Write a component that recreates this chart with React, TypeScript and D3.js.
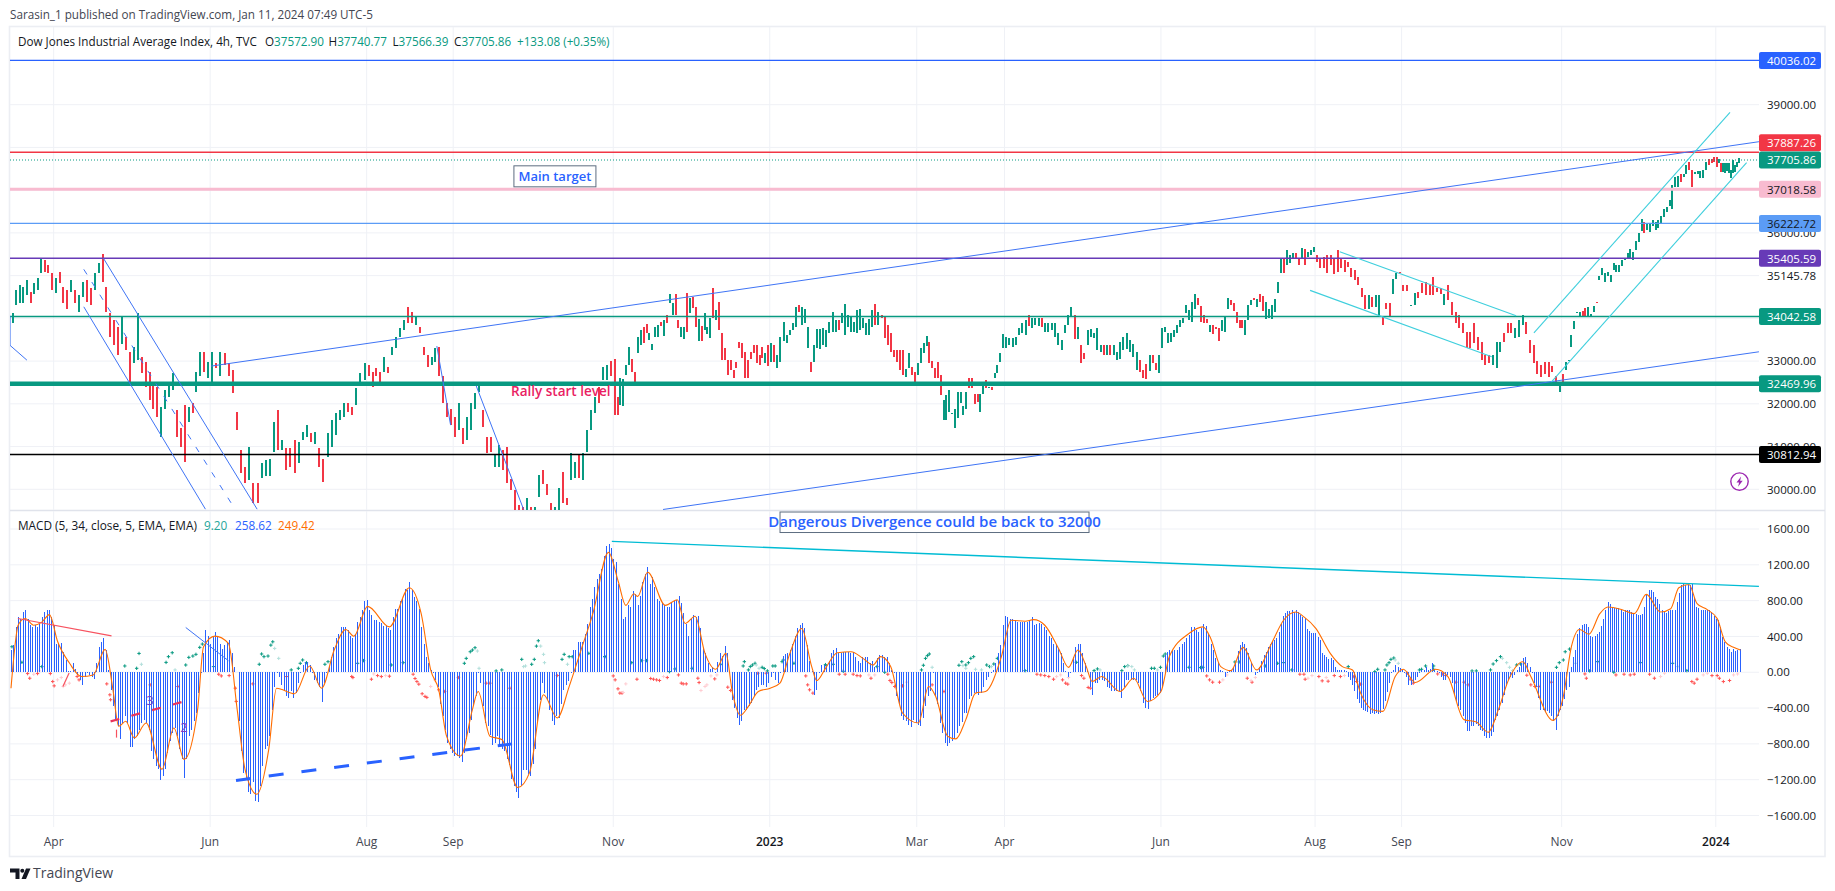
import * as d3 from "d3";

const WIDTH = 1835;
const HEIGHT = 891;
const UI_FONT = "'Open Sans', sans-serif";

// candles are [open, close], one list per stretch between two time axis labels
const mar22: number[][] = [[33900,34120],[34310,34660],[34350,34780],[34350,34740],[34550,34900],[34620,34350],[34580,34820],[34660,34940],[35050,35380],[35360,35090],[35250,35050],[35050,34660]];
const apr22: number[][] = [[34590,34940],[35090,34820],[34740,34350],[34660,34230],[34620,34900],[34660,34350],[34160,34550],[34510,34860],[34900,34390],[34700,34310],[34660,35050],[35050,35290],[35500,34860],[34740,34150],[34120,33570],[33960,33380],[33800,33140],[33410,34040],[33570,33260],[33220,32480],[32950,33340],[33030,34120],[33100,32710],[32990,32400],[32750,32090],[32520,31890],[32400,31700],[31230,31930],[31890,32320],[32170,32480],[32320,32710],[31850,31230],[31430,31000],[31970,30650],[31580,31930],[32010,31780],[32280,32750],[32640,33220],[33220,32750],[32600,32990]];
const jun22: number[][] = [[32520,33220],[32950,32830],[32640,33220],[33180,32910],[32950,32640],[32790,32250],[31820,31390],[30920,30370],[30530,30140],[30220,31000],[30140,29670],[30140,29670],[30260,30610],[30300,30690],[30300,30720],[30880,31580],[31850,30920],[30920,31150],[30960,30450],[30960,30530],[31150,30370],[30610,31110],[31150,31350],[31230,31500],[31310,31110],[31070,31350],[30960,30530],[30720,30180],[30760,31310],[31000,31620],[31270,31780],[31620,31850],[31700,32010],[32010,31820],[31930,31740],[31970,32360],[32440,32710],[32560,32950]];
const aug22: number[][] = [[32910,32640],[32750,32400],[32830,32640],[32750,32520],[32750,33100],[32870,32710],[33140,33340],[33300,33570],[33570,33770],[33730,33960],[34270,33880],[34150,33880],[33840,34040],[33800,33650],[33340,33140],[33140,32870],[32910,33100],[32990,33300],[33340,32640],[32640,32010],[32010,31700],[31890,31500]];
const sep22: number[][] = [[31700,31230],[31390,32010],[31430,31070],[31150,31700],[31390,32010],[31890,32250],[32280,32440],[31850,31460],[31230,30840],[31230,30880],[30530,30800],[30530,31030],[30920,30450],[31000,30140],[30250,29980],[29980,29510],[29630,29200],[29590,29150],[29440,29790],[29590,29120],[29360,29590],[29830,30330],[30460,30120],[30120,29870],[29670,29360],[29440,29590],[29510,30020],[30410,29670],[29790,29630],[30220,30840],[30260,30650],[30800,30260],[30220,30840],[30880,31390],[31390,31850],[31780,32170],[32400,32010],[32560,32870],[32560,32910],[33000,32640]];
const nov22: number[][] = [[33060,31740],[32170,31740],[31970,32600],[31950,32590],[32670,32900],[32910,33340],[33060,32750],[32750,32480],[33180,33570],[33380,33730],[33790,33420],[33860,33650],[33490,33650],[33260,33410],[33570,33800],[33570,33850],[33910,33810],[33580,33970],[34080,33880],[34370,34570],[34070,34370],[34560,34080],[33960,33770],[33570,33800],[33520,33790],[34590,33690],[34120,34470],[34510,34240],[34260,33800],[33460,33980],[33810,33460],[33720,34130],[33630,33790],[33530,34000],[34700,34000],[33960,34190],[34390,33730],[33650,33020],[33300,33020],[33020,32670],[33020,32790],[32790,32600],[32990,32830],[33440,33300],[33420,33070],[33220,32600],[33020,32600],[33220,33060],[33370,33180],[33370,32950],[33140,32910],[33340,33070],[32950,33190],[33370,32880]];
const jan23: number[][] = [[32990,33420],[33370,32990],[32830,33140],[32990,33570],[33470,33920],[33420,33610],[33610,33730],[33730,33880],[33800,34270],[34310,34160],[33840,34270],[33880,34230],[33300,33800],[32990,32750],[32990,33380],[33310,33760],[33290,33760],[33380,33770],[33340,33730],[33650,33920],[33690,34160],[33670,33960],[33960,33730],[33880,34120],[33610,34340],[33800,34080],[33690,34040],[33690,33920],[33650,34190],[33730,34230],[33770,34000],[33610,33880],[33610,33990],[33800,34200],[34340,33840],[33840,34160],[34080,34000],[34040,33530],[33840,33380],[33650,33220],[33260,33100],[33260,32990],[33260,32790],[33260,32680],[32620,32820],[32830,33180],[32870,32670],[32750,32520]];
const mar23: number[][] = [[32670,32950],[32950,33300],[33180,33420],[33350,33580],[33450,32950],[33000,32830],[32830,32600],[32990,32600],[32670,32210],[31620,32090],[31620,32210],[31820,32320],[31780,31780],[31430,31890],[31660,32280],[32010,32280],[31740,31950],[31880,32280],[32600,32360],[32600,32360],[32240,31990],[32240,32050],[31820,32240],[32230,32520],[32560,32360],[32400,32400],[32400,32320],[32600,32720],[32710,32910],[32990,33180],[33300,33630]];
const apr23: number[][] = [[33300,33570],[33370,33530],[33340,33530],[33370,33570],[33610,33770],[33650,33880],[33610,33960],[34080,33810],[33770,34000],[33840,34000],[33810,34020],[34020,33800],[33690,33880],[33690,33880],[33730,33880],[33570,33880],[33380,33650],[33260,33490],[33650,33840],[33840,34080],[34040,34260],[34070,33520],[33520,33800],[33370,32950],[33180,33060],[33370,33730],[33570,33760],[33530,33650],[33260,33770],[33210,33370],[33370,33140],[33140,33370],[33370,33140],[33140,33370],[33020,33220],[33060,33450],[33260,33570],[33290,33650],[33220,33490],[33100,33410],[32790,33220],[33030,32750],[32790,32600],[32940,32590],[32780,33140],[33140,32950],[32950,32790],[32720,33140]];
const jun23: number[][] = [[33300,33770],[33690,33800],[33420,33650],[33450,33650],[33570,33730],[33650,33840],[33800,33960],[33880,34020],[34120,34310],[33960,34200],[33920,34390],[34230,34580],[34470,34320],[34300,33920],[34080,33880],[33990,33890],[33690,33840],[33840,33640],[33800,33760],[33770,33460],[33710,33960],[33670,34040],[34210,34470],[34420,34310],[34360,34180],[34160,33880],[33960,33770],[33960,33770],[33620,33960],[33960,34310],[34310,34440],[34480,34420],[34270,34460],[34580,34380],[34520,34180],[33990,34390],[34000,34220],[33990,34320],[34150,34460],[34600,34850],[35050,35400],[35420,35070],[35250,35590],[35290,35480],[35400,35520],[35520,35400],[35400,35250],[35400,35640],[35630,35250],[35440,35560],[35480,35600],[35560,35680]];
const aug23: number[][] = [[35480,35330],[35400,35170],[35440,35170],[35480,35050],[35480,35250],[35400,35040],[35600,35090],[35400,35170],[35360,35090],[35330,35210],[35170,34970],[35130,34900],[34970,34780],[34700,34500],[34540,34230],[34230,34540],[34500,34270],[34270,34540],[34040,34540],[34040,33850],[34350,34230],[34350,34040],[34560,34930],[34930,35060],[35090,35050]];
const sep23: number[][] = [[34780,34630],[34780,34630],[34310,34310],[34310,34590],[34620,34470],[34820,34590],[34860,34550],[34780,34550],[34970,34550],[34700,34620],[34700,34580],[34310,34580],[34780,34430],[34390,34080],[34150,33880],[34080,33770],[33880,33650],[33690,33300],[33690,33300],[33880,33420],[33570,33260],[33450,33030],[33140,32900],[33140,32950],[32900,33140],[32850,33450],[33210,33450],[33650,33450],[33880,33650],[33880,33650],[33530,33770],[33570,33960],[33850,34080],[33920,33640],[33490,33190],[33370,32960],[33010,32700],[32910,32620],[32970,32700],[32970,32630],[32890,32750],[32650,32480],[32280,32520]];
const nov23: number[][] = [[32700,32520],[32790,32990],[33020,33030],[33340,33620],[33760,33950],[34150,34150],[34040,34150],[34170,34040],[34240,34040],[34060,34270],[34040,34100],[34150,34280],[34390,34380],[34890,35000],[35010,35180],[34850,35050],[34980,35090],[34860,35010],[35130,35290],[35090,35250],[35090,35250],[35220,35360],[35360,35400],[35380,35520],[35400,35630],[35360,35560],[35600,35800],[35790,35990],[36040,36320],[36260,36000],[36070,36220],[36030,36240],[36150,36310],[36060,36260],[36110,36300],[36220,36400],[36380,36570],[36490,36610],[36620,36770],[36570,37120],[37080,37310],[37080,37320],[37390,37200],[37300,37370],[37390,37590],[37650,37470],[37470,37070],[37380,37430],[37370,37440],[37290,37460],[37280,37470],[37470,37670],[37720,37590],[37740,37640],[37780,37650]];
const jan24: number[][] = [[37780,37550],[37630,37740],[37630,37430],[37430,37630],[37400,37630],[37440,37630],[37400,37630],[37280,37470],[37400,37710],[37430,37590],[37550,37670],[37630,37750]];

const candleStretches = [mar22, apr22, jun22, aug22, sep22, nov22, jan23, mar23, apr23, jun23, aug23, sep23, nov23, jan24];

const timeLabels = ["Apr", "Jun", "Aug", "Sep", "Nov", "2023", "Mar", "Apr", "Jun", "Aug", "Sep", "Nov", "2024"];
const timeBars = [18, 84, 150, 186.5, 254, 320, 382, 419, 485, 550, 586.5, 654, 719];
const lastBar = 729;

// MACD histogram, three stretches of bars
const histogramA = [250,300,510,620,600,670,690,600,530,510,530,510,540,620,670,690,690,620,530,320,310,330,230,140,10,10,100,40,-30,-90,-140,-50,-10,-30,-50,-70,100,280,340,380,250,30,-200,-380,-530,-600,-750,-570,-490,-570,-840,-840,-750,-710,-640,-570,-530,-570,-640,-880,-970,-1050,-1080,-1200,-1160,-1080,-900,-770,-680,-620,-710,-860,-970,-1180,-970,-710,-640,-550,-450,-230,-10,210,470,400,320,400,450,400,320,260,300,340,360,220,60,0,-550,-880,-1120,-1200,-1340,-1360,-1230,-1440,-1450,-1270,-1050,-860,-820,-710,-420,-160,-10,-50,-140,-200,-270,-290,-210,-290,-230,-120,-10,80,120,120,80,-10,-85,-120,-160,-330,-120,-10,60,170,280,380,430,500,500,500,470,400,380,430,560,620,690,800,810,690,640,580,580,560,550,520,520,490,470,620,710,710,800,820,930,920,1010,920,840,800,710,510,320,170,100,30,-10,-85,-160,-360,-490,-640,-790,-860,-900,-940,-940,-960,-1000,-900,-750,-680,-530,-380,-270,-10,-120,-380,-570,-600,-700,-810,-790,-710,-830,-860,-880,-970,-1040,-1190,-1270,-1340,-1410,-1270,-1090,-1090,-1140,-1160,-1030,-860,-570,-310,-120,-230,-310,-420,-550,-590,-490,-510,-350,-200,-140,-100,-10,250,250,340,340,340,430,540,730,820,950,1040,1100,1150,1300,1410,1430];
const histogramB = [1430,1390,1260,1230,990,820,600,620,750,730,910,870,750,850,1010,1100,1170,990,1060,950,820,800,770,750,730,730,780,800,810,850,770,660,540,400,600,640,620,630,490,270,210,100,40,60,-10,110,210,180,290,210,-10,-310,-400,-510,-590,-550,-420,-420,-380,-340,-270,-200,-160,-140,-140,-160,-120,-50,-10,-85,-120,-10,180,200,210,250,320,400,490,530,550,490,300,130,10,-250,-200,-10,80,80,80,130,210,250,270,210,210,230,230,230,210,230,170,130,100,170,170,170,100,130,60,160,190,190,170,170,100,30,-10,-270,-360,-490,-530,-550,-590,-610,-530,-570,-590,-600,-510,-380,-270,-215,-10,-270,-350,-570,-680,-790,-825,-790,-770,-750,-680,-600,-560,-450,-450,-300,-270,-230,-230,-250,-230,-160,-85,-50,-10,30,100,210,300,530,630,620,600,600,580,560,560,560,560,560,580,620,530,540,550,540,500,470,400,380,320,300,270,210,100,10,-50,-10,170,280,320,320,210,100,30,-160,-250,-120,-120,-85,-85,-100,-160,-180,-215,-215,-215,-215,-290,-160,-85,-85,-85,-85,-85,-120,-215,-340,-400,-407,-325,-290,-270,-250,-230,-160,190,230,250,250,250,250,280,320,340,380,420,500,500,470,450,490,540,520,430,320,250,160,120,30];
const histogramC = [30,10,-50,-10,10,30,60,120,240,300,340,320,270,210,100,0,-30,-10,60,130,190,230,280,310,340,360,380,450,540,630,660,680,680,690,670,690,670,640,620,610,480,460,440,440,440,390,360,220,190,170,150,160,140,60,30,30,30,30,10,-50,-85,-140,-215,-300,-340,-400,-420,-430,-440,-470,-460,-470,-460,-470,-450,-410,-320,-220,-120,-10,30,80,60,50,30,-10,-50,-140,-140,-120,-85,-50,-10,30,30,60,30,40,100,30,10,-10,-50,-85,-85,-30,-50,-120,-250,-330,-380,-420,-490,-570,-660,-660,-600,-600,-580,-600,-640,-660,-710,-730,-730,-710,-670,-530,-490,-420,-340,-250,-150,-85,-50,-60,-30,30,60,100,155,170,100,60,-10,-120,-160,-290,-420,-420,-440,-430,-460,-490,-550,-640,-490,-420,-380,-300,-200,-160,60,170,250,430,490,530,540,540,510,410,390,410,430,450,520,600,690,790,760,730,720,720,720,700,670,690,690,690,670,650,650,640,640,650,730,860,920,920,900,840,820,760,700,670,660,680,690,690,700,780,890,980,990,980,980,980,990,840,730,720,690,690,690,690,690,670,630,600,580,500,390,340,280,260,230,260,240,250,260];

// Signal line, read at its turning points
const signalBars = [0,1.2,3,6,9.6,13,16.2,19.7,24.7,29.7,34.7,39.7,43,45.4,48.4,52,57,63.7,68.7,73,78.7,81.2,86,91.7,95.4,98.7,103.7,108.7,112,119.6,126,131,136.3,141.2,144.6,150.4,159.6,168,173,177,180.4,183.7,189.6,194.6,197,202,207,213.7,218.7,224.6,230.4,235.4,240.4,245.4,252,256,259.3,262.7,264.3,268.5,276,281,284.3,288.5,292.7,297.2,301.5,304.3,307.7,311,315.2,320.2,324.3,328.5,333.5,337.7,339.8,343.5,348.5,354.3,359.3,363.5,366.8,371,376,382.7,387,390,395,398.5,402.7,406.8,411,417.7,421.8,427.7,431.3,436,441.8,446,450,453.5,456,460,467.7,473.5,479.3,485,488.5,496.8,502.7,506,510.2,514.5,519.6,525.3,531.6,536.7,541.9,545.3,550.4,556.4,561.5,565.8,569.2,574.3,578.6,583.8,587.2,592.3,600.8,606,612.8,618,623,627.3,631.6,637.6,641,650.4,654.7,658.1,661.5,665.5,670.1,673.5,679.5,684.6,689.7,695.7,700,703.4,707.7,711.1,715.4,719.6,723,726.5,729.4];
const signalValues = [-178,174,525,600,525,560,644,340,100,-48,-30,255,-196,-603,-548,-733,-566,-1084,-622,-973,-418,285,403,322,-418,-1084,-1362,-862,-178,-240,70,-178,248,477,403,736,507,944,655,26,-196,-714,-936,-418,-215,-714,-751,-1288,-1121,-252,-511,-160,248,655,1339,1025,747,877,847,1117,747,810,544,625,211,33,211,-233,-481,-381,-215,-178,-122,211,488,63,-93,44,218,229,155,81,174,63,-455,-566,-159,-270,-714,-744,-529,-233,-215,174,581,570,588,525,266,55,248,63,-104,-48,-215,-67,-326,-215,174,433,507,377,63,18,278,26,322,581,673,618,488,211,63,26,-233,-418,-437,-48,33,-115,33,-48,-529,-555,-670,-418,-85,118,-48,-537,-270,285,477,425,655,729,699,655,870,673,710,944,980,766,699,599,340,278,248];

// crosses of the MACD plot: [bar, value]
const crossTeal: number[][] = [[0.4,285],[48,70],[54,210],[53,44],[65.4,110],[66.4,174],[68,218],[73.7,81],[75,166],[76.7,181],[78,200],[79.6,278],[80.7,315],[104.7,89],[105.7,204],[106.7,174],[108.4,181],[110.4,340],[109.6,303],[122,100],[123,137],[124.6,107],[118.2,26],[121.2,44],[132.4,89],[133.7,118],[191.2,100],[192,155],[193.7,229],[194.6,248],[195.7,274],[204.6,15],[207,26],[215.4,144],[219.6,89],[220.7,144],[221.6,292],[222.4,352],[232.4,144],[233.3,200],[235.4,174],[236.7,174],[4.6,111],[13,63],[146.2,100],[148.7,130],[160.4,81],[165.4,107],[85.4,63],[243.7,211],[250.4,174],[309.3,118],[308.8,70],[311,26],[311.8,63],[312.7,81],[313.8,100],[316.8,55],[317.7,41],[319,15],[321.3,70],[322.3,70],[325.2,118],[325.7,137],[384,26],[384.8,78],[385.7,155],[386.5,185],[387.3,204],[399.8,78],[401,118],[402.7,81],[403.8,107],[404.8,155],[406,174],[411.5,81],[412.7,63],[414.5,92],[416,155],[456.8,18],[458.2,37],[468.5,18],[469.7,63],[471,74],[481,44],[482.2,44],[484.8,55],[486.8,204],[486,181],[250.5,174],[261.8,107],[266,130],[268,130],[277.7,7],[280,37],[287.2,44],[299.3,89],[330.2,100],[343.5,85],[346.8,89],[351,11],[365.2,63],[368.5,0],[427.7,18],[449.3,111],[496.8,55],[502.7,55],[501.7,52],[516.2,115],[518,115],[529,70],[534.2,100],[536.7,107],[540.2,26],[564,63],[575.2,7],[576.4,33],[579.5,26],[580.3,81],[581.2,107],[582,144],[583.2,159],[594,26],[594.9,33],[596.6,70],[600,33],[600,70],[616.2,15],[618,15],[624,26],[625.1,92],[626.5,130],[628.2,174],[635,81],[636.7,92],[651.8,55],[653,107],[654.7,137],[655.5,229],[657.3,259],[665.8,15],[669.2,118],[676,0],[687.2,107],[700.8,100],[706.8,18]];
const crossPaleTeal: number[][] = [[55,89],[69.2,26],[111.2,266],[112.9,155],[196.7,237],[197.4,44],[217,70],[223.4,292],[224.6,200],[225,107],[234.7,89],[216.2,63],[314.3,81],[315.5,44],[388.5,55],[401.5,74],[402.7,44],[406.8,33],[409.3,26],[413.5,63],[471,70],[472.7,63],[473.8,26],[459.3,26],[483.5,26],[583.8,137],[585.1,100],[629,155],[630.8,107],[632,55],[633.3,18],[659.8,100],[703,63]];
const crossRed: number[][] = [[7.9,-67],[7,-15],[11.2,-15],[16.6,-15],[17.6,-104],[18.2,-152],[27.9,-48],[28.7,-85],[40.4,-130],[41.7,-252],[42,-307],[94.6,-178],[95,-326],[87.6,-22],[88.7,-41],[92,-37],[143.7,-48],[144.2,-59],[152,-78],[154.6,-37],[156.2,-48],[159.6,-44],[169.6,-22],[170.4,-70],[171.2,-104],[172,-133],[173.4,-240],[174.6,-270],[175.4,-281],[180.4,-196],[182.9,-215],[58.7,-141],[70.4,-159],[102,-130],[116.2,-48],[188.7,-59],[200.4,-122],[202,-122],[210.4,-178],[230.4,-37],[254,-41],[254.8,-85],[256,-185],[256.8,-233],[257.7,-233],[264,-78],[269.8,-70],[271,-78],[272.3,-85],[273.5,-92],[276.8,-59],[281.5,-30],[282.7,-122],[283.5,-130],[284.8,-130],[289.7,-67],[290.2,-115],[296.8,-74],[302.3,-167],[303.5,-204],[335.2,-41],[336,-141],[336.8,-196],[338.2,-233],[349.3,-22],[351.8,-22],[355.2,-22],[356.8,-37],[358.2,-41],[362.7,-67],[369.8,-22],[370.7,-92],[371.5,-115],[372.7,-159],[376,-152],[432.7,-22],[434.3,-30],[436,-37],[437.7,-48],[439.7,-78],[443.5,-85],[444.8,-122],[445.7,-133],[451.5,-37],[452.5,-67],[454.3,-170],[455.2,-178],[315,-11],[318.5,-11],[388.5,-141],[393.5,-215],[504.3,-41],[505.5,-85],[506.8,-111],[509.7,-111],[521.4,-67],[523.4,-111],[543.6,-22],[545.3,-22],[545.8,-78],[551.6,-48],[553,-96],[555.5,-100],[558.1,-37],[560.7,-48],[566.3,-48],[567.5,-104],[569.2,-133],[588.9,-11],[590.1,-78],[591.4,-122],[601.7,-19],[603.8,-19],[605.1,-37],[609.4,-111],[612.8,-111],[614.5,-141],[639.3,-33],[641,-141],[642.7,-159],[644.4,-159],[649.6,-111],[663.8,-19],[664.4,-67],[676.9,-30],[680.3,-22],[682.9,-30],[684.6,-22],[691.1,-22],[693.1,-67],[708.9,-104],[709.9,-122],[711.1,-78],[717.4,-37],[719.6,-37],[720.5,-67],[722.2,-104],[724.8,-92]];
const crossPink: number[][] = [[9.6,-22],[12,15],[19.6,-85],[21.2,-59],[22.9,-141],[24.6,-122],[22,-159],[153,-19],[158,-37],[177,-159],[178.7,-85],[259.3,-130],[258.2,-226],[275.2,-48],[291,-204],[292.7,-159],[293.5,-141],[295.2,-41],[297.7,-30],[364.3,-30],[361.8,-30],[441,-48],[442.7,-30],[446,-59],[377.7,-111],[511.1,-85],[512.8,-30],[523,-92],[524.8,-59],[547,-67],[548.7,-37],[554.7,-59],[562.4,-37],[695.7,-48],[697.4,-11],[713.7,-30],[715.4,-11],[726.5,-30],[728.2,-19]];

// horizontal levels with their tags
const levelValues = [40036.02, 37887.26, 37018.58, 36222.72, 35405.59, 34042.58, 32469.96, 30812.94];
const levelColors = ["#2962ff", "#f23645", "#f8bbd0", "#5b9cf6", "#673ab7", "#089981", "#089981", "#000000"];
const levelWidths = [1.2, 1.5, 3, 1.2, 1.5, 1.5, 4.5, 1.5];
const levelTextColors = ["#fff", "#fff", "#131722", "#131722", "#fff", "#fff", "#fff", "#fff"];
const levelTagShift = [0, -9.5, 0, 0, 0, 0, 0, 0];
const lastPrice = 37705.86;

const priceGrid = [39000, 38000, 37000, 36000, 35000, 34000, 33000, 32000, 31000, 30000];
const priceTickValues = [39000, 36000, 35000, 33000, 32000, 31000, 30000];
const priceTickLabels = ["39000.00", "36000.00", "35145.78", "33000.00", "32000.00", "31000.00", "30000.00"];
const macdTicks = [1600, 1200, 800, 400, 0, -400, -800, -1200, -1600];

// trend lines drawn on the price pane: [bar, price, bar, price]
const blueTrends: number[][] = [[84.4,32883,737.2,38134],[275,29528,737.2,33218],[39,35404,103.8,29535],[30.7,34271,82,29535],[-0.4,33368,6.7,33023],[-0.4,34053,-0.4,33368],[179.6,33351,185.4,31502],[196.2,32422,216.2,29528]];
const blueDashedTrend = [30.7, 35147, 93.6, 29613];
const cyanTrends: number[][] = [[642.3,33662,725,38822],[649.7,32515,732,37642],[560.4,35559,634.8,34060],[547.9,34655,624.5,33101]];

const divergenceLine = [253.4, 1462, 737.2, 959];
const macdRedLines: number[][] = [[2.9,600,42.4,407],[44.5,-641,44.5,-730],[24.5,-8,21.9,-160]];
const macdBlueLine = [73.7, 500, 91.7, 129];
const macdBlueDashed = [94.9, -1208, 211.3, -800];
const macdRedDashed = [42, -549, 72.9, -327];

const legendItems = [
    { label: "O", value: "37572.90", x: 265 },
    { label: "H", value: "37740.77", x: 328.5 },
    { label: "L", value: "37566.39", x: 392.5 },
    { label: "C", value: "37705.86", x: 454 },
];

const xBar = d3.scaleLinear().domain([0, lastBar]).range([11, 1739.5]);
const yPrice = d3.scaleLinear().domain([30000, 39000]).range([489.3, 104.7]);
const yMacd = d3.scaleLinear().domain([-1600, 1600]).range([815.5, 529]);
const fmt = d3.format(".2f");

const PLOT_LEFT = 10;
const AXIS_X = 1759;
const FRAME_RIGHT = 1825;
const PRICE_TOP = 27;
const PRICE_BOTTOM = 510;
const MACD_BOTTOM = 827;

const segment = (s: number[], y: d3.ScaleLinear<number, number>) => ({
    x1: xBar(s[0]),
    y1: y(s[1]),
    x2: xBar(s[2]),
    y2: y(s[3]),
});

// turn the stretches into positioned candles
const stretchBars = [0, ...timeBars, lastBar];
const candles = candleStretches.flatMap((list, k) => {
    const step = d3
        .scaleLinear()
        .domain([0, list.length])
        .range([stretchBars[k], stretchBars[k + 1]]);
    return list.map((c, j) => ({ bar: step(j + 0.5), open: c[0], close: c[1] }));
});

const histogramBars = (() => {
    const parts = [
        { values: histogramA, from: 0, to: 252 },
        { values: histogramB, from: 252, to: 510 },
        { values: histogramC, from: 510, to: lastBar },
    ];
    return parts.flatMap((p) => {
        const step = d3
            .scaleLinear()
            .domain([0, p.values.length - 1])
            .range([p.from, p.to]);
        return p.values.map((v, j) => ({ bar: step(j), value: v }));
    });
})();

const signalPath = d3
    .line<number>()
    .x((_, i) => xBar(signalBars[i]))
    .y((v) => yMacd(v))
    .curve(d3.curveMonotoneX)(signalValues) as string;

function Cross({ d, color }: { d: number[]; color: string }) {
    const x = xBar(d[0]);
    const y = yMacd(d[1]);
    return (
        <path
            d={`M${x - 1.7},${y}H${x + 1.7}M${x},${y - 1.7}V${y + 1.7}`}
            stroke={color}
            strokeWidth={1}
        />
    );
}

function App() {
    return (
        <svg
            width={WIDTH}
            height={HEIGHT}
            style={{ position: "absolute", left: 0, top: 0, display: "block", background: "#fff" }}
            fontFamily={UI_FONT}
        >
            <defs>
                <clipPath id="pricePane">
                    <rect x={PLOT_LEFT} y={PRICE_TOP} width={AXIS_X - PLOT_LEFT} height={PRICE_BOTTOM - PRICE_TOP} />
                </clipPath>
                <clipPath id="macdPane">
                    <rect x={PLOT_LEFT} y={PRICE_BOTTOM} width={AXIS_X - PLOT_LEFT} height={MACD_BOTTOM - PRICE_BOTTOM} />
                </clipPath>
            </defs>

            <text x={10} y={19} fontSize={11.7} fill="#434651">
                Sarasin_1 published on TradingView.com, Jan 11, 2024 07:49 UTC-5
            </text>

            {/* frame */}
            <rect x={9.5} y={26.5} width={FRAME_RIGHT - 9.5} height={830} fill="none" stroke="#eceef3" strokeWidth={1.6} />
            <line x1={PLOT_LEFT} x2={FRAME_RIGHT} y1={PRICE_BOTTOM + 0.5} y2={PRICE_BOTTOM + 0.5} stroke="#e0e3eb" strokeWidth={1.5} />

            {/* grid */}
            {timeBars.map((b, i) => (
                <g key={i} stroke="#eff1f6">
                    <line x1={xBar(b)} x2={xBar(b)} y1={PRICE_TOP} y2={PRICE_BOTTOM} />
                    <line x1={xBar(b)} x2={xBar(b)} y1={PRICE_BOTTOM + 1} y2={MACD_BOTTOM} />
                </g>
            ))}
            {priceGrid.map((v) => (
                <line key={v} x1={PLOT_LEFT} x2={AXIS_X} y1={yPrice(v)} y2={yPrice(v)} stroke="#eff1f6" />
            ))}
            {macdTicks.map((v) => (
                <line key={v} x1={PLOT_LEFT} x2={AXIS_X} y1={yMacd(v)} y2={yMacd(v)} stroke="#eff1f6" />
            ))}

            {/* price pane */}
            <g clipPath="url(#pricePane)">
                {candles.map((c, i) => (
                    <rect
                        key={i}
                        x={Math.round(xBar(c.bar)) - 1}
                        width={2}
                        y={yPrice(Math.max(c.open, c.close))}
                        height={Math.max(1, Math.abs(yPrice(c.open) - yPrice(c.close)))}
                        fill={c.close >= c.open ? "#089981" : "#f23645"}
                        shapeRendering="crispEdges"
                    />
                ))}
                {levelValues.map((v, i) => (
                    <line key={v} x1={PLOT_LEFT} x2={AXIS_X} y1={yPrice(v)} y2={yPrice(v)} stroke={levelColors[i]} strokeWidth={levelWidths[i]} />
                ))}
                <line x1={PLOT_LEFT} x2={AXIS_X} y1={yPrice(lastPrice)} y2={yPrice(lastPrice)} stroke="#089981" strokeDasharray="1 2" />
                {blueTrends.map((s, i) => (
                    <line key={i} {...segment(s, yPrice)} stroke="#3f74f5" strokeWidth={1} />
                ))}
                <line {...segment(blueDashedTrend, yPrice)} stroke="#3f74f5" strokeWidth={1} strokeDasharray="6 9" />
                {cyanTrends.map((s, i) => (
                    <line key={i} {...segment(s, yPrice)} stroke="#3fcfdd" strokeWidth={1.1} />
                ))}
            </g>

            {/* annotations */}
            <g>
                <rect x={xBar(229.4) - 41} y={yPrice(37324) - 10.5} width={82} height={21} fill="#fff" stroke="#5d6d80" />
                <text x={xBar(229.4)} y={yPrice(37324) + 4.5} textAnchor="middle" fontSize={13} fontWeight={600} fill="#2962ff">
                    Main target
                </text>
                <text x={xBar(210.9)} y={yPrice(32281) + 4.5} fontSize={13.5} fontWeight={600} fill="#e91e63">
                    Rally start level
                </text>
            </g>

            {/* last-price chart legend */}
            <text x={18} y={45.5} fontSize={11.7} fill="#131722">
                Dow Jones Industrial Average Index, 4h, TVC
            </text>
            {legendItems.map((item) => (
                <text key={item.label} x={item.x} y={45.5} fontSize={11.7}>
                    <tspan fill="#131722">{item.label}</tspan>
                    <tspan fill="#089981">{item.value}</tspan>
                </text>
            ))}
            <text x={517} y={45.5} fontSize={11.7} fill="#089981">
                +133.08 (+0.35%)
            </text>

            {/* macd pane */}
            <g clipPath="url(#macdPane)">
                {crossTeal.map((d, i) => (
                    <Cross key={i} d={d} color="#089981" />
                ))}
                {crossPaleTeal.map((d, i) => (
                    <Cross key={i} d={d} color="#b2dfdb" />
                ))}
                {crossRed.map((d, i) => (
                    <Cross key={i} d={d} color="#ff5252" />
                ))}
                {crossPink.map((d, i) => (
                    <Cross key={i} d={d} color="#ffcdd2" />
                ))}
                {histogramBars.map((h, i) => (
                    <rect
                        key={i}
                        x={Math.round(xBar(h.bar))}
                        width={1}
                        y={yMacd(Math.max(h.value, 0))}
                        height={Math.abs(yMacd(h.value) - yMacd(0))}
                        fill="#2962ff"
                        shapeRendering="crispEdges"
                    />
                ))}
                <path d={signalPath} fill="none" stroke="#ff6d00" strokeWidth={1.1} />
                <line {...segment(divergenceLine, yMacd)} stroke="#00bcd4" strokeWidth={1.4} />
                {macdRedLines.map((s, i) => (
                    <line key={i} {...segment(s, yMacd)} stroke="#f7525f" strokeWidth={1.2} />
                ))}
                <line {...segment(macdBlueLine, yMacd)} stroke="#3f74f5" strokeWidth={1} />
                <line {...segment(macdBlueDashed, yMacd)} stroke="#2962ff" strokeWidth={3} strokeDasharray="15 18" />
                <line {...segment(macdRedDashed, yMacd)} stroke="#e8335c" strokeWidth={2.2} strokeDasharray="9 12.5" />
                <text x={xBar(58.6)} y={yMacd(-315) + 4.5} fontSize={13} textAnchor="middle" fill="#7b3fc4">3</text>
                <text x={xBar(72.9)} y={yMacd(-618) + 4.5} fontSize={13} textAnchor="middle" fill="#7b3fc4">2</text>
            </g>

            <rect x={xBar(389.5) - 154.5} y={yMacd(1678) - 10} width={309} height={20.5} fill="#fff" stroke="#5d6d80" />
            <text x={xBar(389.5)} y={yMacd(1678) + 5} textAnchor="middle" fontSize={15} fontWeight={600} fill="#2962ff">
                Dangerous Divergence could be back to 32000
            </text>

            <text x={18} y={530} fontSize={11.8} fill="#131722">
                MACD (5, 34, close, 5, EMA, EMA)
            </text>
            <text x={204} y={530} fontSize={11.8} fill="#26a69a">9.20</text>
            <text x={235} y={530} fontSize={11.8} fill="#2962ff">258.62</text>
            <text x={278} y={530} fontSize={11.8} fill="#ff6d00">249.42</text>

            {/* price axis */}
            {priceTickValues.map((v, i) => (
                <text key={v} x={1767} y={yPrice(v) + 4.2} fontSize={11.5} fill="#131722">
                    {priceTickLabels[i]}
                </text>
            ))}
            {levelValues.map((v, i) => (
                <g key={v} transform={`translate(${AXIS_X},${yPrice(v) + levelTagShift[i]})`}>
                    <rect x={0} y={-8.5} width={62} height={17} rx={2} fill={levelColors[i]} />
                    <text x={8} y={4.2} fontSize={11.5} fontWeight={500} fill={levelTextColors[i]}>
                        {fmt(v)}
                    </text>
                </g>
            ))}
            <g transform={`translate(${AXIS_X},${yPrice(lastPrice)})`}>
                <rect x={0} y={-8.5} width={62} height={17} rx={2} fill="#089981" />
                <text x={8} y={4.2} fontSize={11.5} fontWeight={500} fill="#fff">
                    {fmt(lastPrice)}
                </text>
            </g>

            {/* macd axis */}
            {macdTicks.map((v) => (
                <text key={v} x={1767} y={yMacd(v) + 4.2} fontSize={11.5} fill="#131722">
                    {fmt(v)}
                </text>
            ))}

            {/* time axis */}
            {timeLabels.map((t, i) => (
                <text
                    key={i}
                    x={xBar(timeBars[i])}
                    y={846}
                    fontSize={12}
                    fontWeight={t.length === 4 ? 600 : 400}
                    textAnchor="middle"
                    fill={t.length === 4 ? "#131722" : "#434651"}
                >
                    {t}
                </text>
            ))}

            {/* replay icon */}
            <g transform={`translate(${xBar(729)},${yPrice(30180)})`}>
                <circle r={8.7} fill="#fff" stroke="#9c27b0" strokeWidth={1.4} />
                <path d="M1.6,-5.2L-3,0.8H-0.4L-1.4,5.2L3.2,-0.8H0.6Z" fill="#9c27b0" />
            </g>

            {/* logo */}
            <g fill="#131722">
                <path d="M10,868.5H19.5V879H15.5V872.5H10Z" />
                <circle cx={22.3} cy={870.8} r={2} />
                <path d="M26,868.5H30.5L26,879H21.5Z" />
            </g>
            <text x={33} y={878} fontSize={14} fill="#434651">
                TradingView
            </text>
        </svg>
    );
}

export default App;
